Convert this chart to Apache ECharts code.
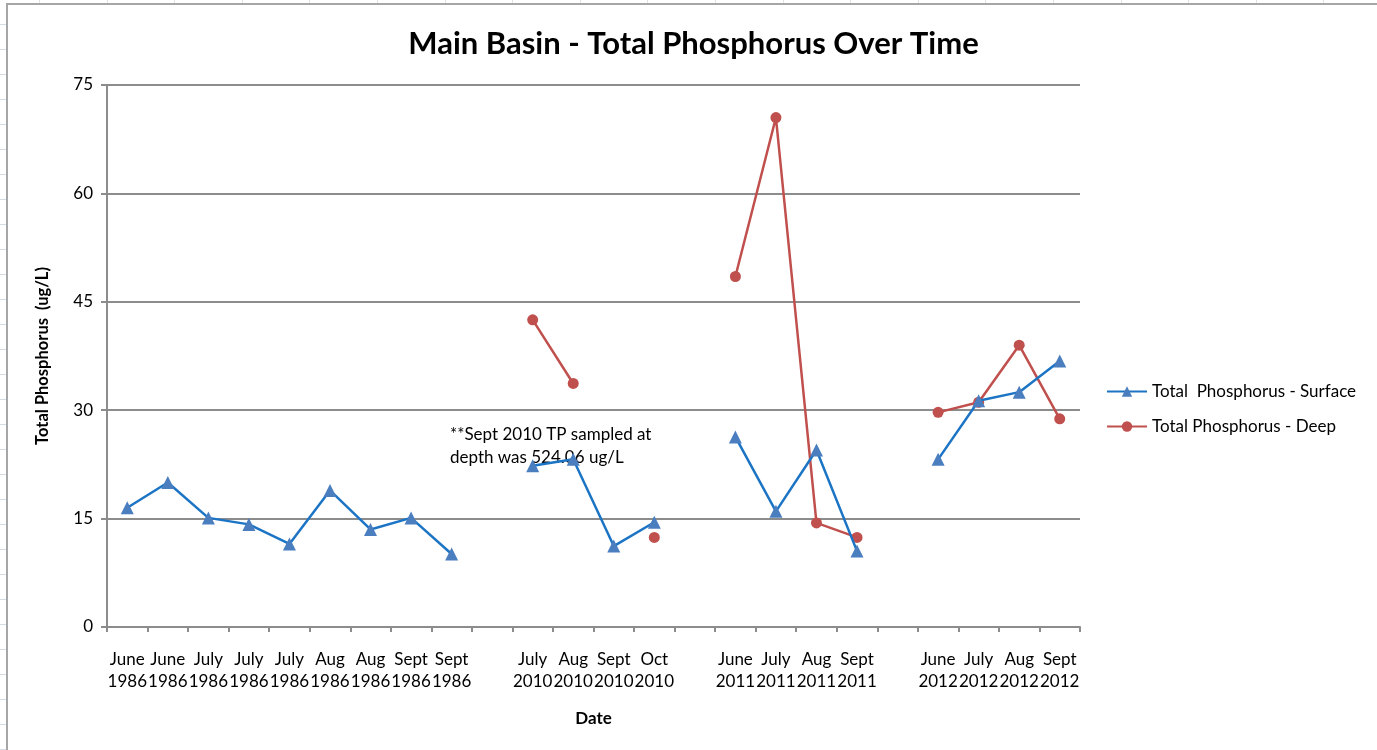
<!DOCTYPE html>
<html>
<head>
<meta charset="utf-8">
<script src="https://cdn.jsdelivr.net/npm/echarts@6/dist/echarts.min.js"></script>
<style>
  html, body { margin: 0; padding: 0; }
  body {
    width: 1377px; height: 750px; overflow: hidden;
    background-color: #fff;
    background-image:
      repeating-linear-gradient(to right, transparent 0, transparent 39px, #dfe3ea 39px, #dfe3ea 40px, transparent 40px, transparent 67.6px),
      repeating-linear-gradient(to bottom, transparent 0, transparent 24px, #d6dce6 24px, #d6dce6 25px);
  }
  #main {
    position: absolute; left: 6px; top: 3px;
    width: 1371px; height: 747px;
    background: #fff;
    border-left: 2px solid #a6a6a6; border-top: 2px solid #a6a6a6;
  }
</style>
</head>
<body>
<div id="main"></div>
<script>
// x categories (blank ones are the gaps between survey years)
var months = ['June','June','July','July','July','Aug','Aug','Sept','Sept','',
              'July','Aug','Sept','Oct','',
              'June','July','Aug','Sept','',
              'June','July','Aug','Sept'];
var years = ['1986','1986','1986','1986','1986','1986','1986','1986','1986','',
             '2010','2010','2010','2010','',
             '2011','2011','2011','2011','',
             '2012','2012','2012','2012'];

var surface = [16.5, 20.0, 15.1, 14.2, 11.5, 18.9, 13.5, 15.1, 10.1, null,
               22.3, 23.2, 11.2, 14.5, null,
               26.3, 16.0, 24.5, 10.5, null,
               23.2, 31.3, 32.5, 36.8];
// Sept 2010 deep value (524.06) left off the chart
var deep = [null, null, null, null, null, null, null, null, null, null,
            42.5, 33.7, null, 12.4, null,
            48.5, 70.5, 14.4, 12.4, null,
            29.7, 31.1, 39.0, 28.8];

var yTicks = [0, 15, 30, 45, 60, 75];

var categories = [];
for (var i = 0; i < months.length; i++) {
    categories.push(months[i] ? months[i] + '\n' + years[i] : '');
}

var font = 'Lato, "Open Sans", sans-serif';
var blue = '#1c74c4', blueMark = '#4a7ebf';
var red = '#c0504d';

var chart = echarts.init(document.getElementById('main'));

var option = {
    animation: false,
    title: {
        text: 'Main Basin - Total Phosphorus Over Time',
        left: 'center',
        top: 18,
        textStyle: { fontFamily: font, fontSize: 31, fontWeight: 'bold', color: '#000' }
    },
    legend: {
        orient: 'vertical',
        left: 1093,
        top: 373,
        itemGap: 18,
        itemWidth: 40,
        itemHeight: 13,
        textStyle: { fontFamily: font, fontSize: 17, color: '#000' },
        data: ['Total  Phosphorus - Surface', 'Total Phosphorus - Deep']
    },
    grid: { left: 99, top: 80, width: 973, height: 542 },
    xAxis: {
        type: 'category',
        data: categories,
        boundaryGap: true,
        name: 'Date',
        nameLocation: 'middle',
        nameGap: 83,
        nameTextStyle: { fontFamily: font, fontSize: 17, fontWeight: 'bold', color: '#000' },
        axisLine: { lineStyle: { color: '#8c8c8c', width: 2 } },
        axisTick: { show: true, alignWithLabel: false, length: 5, lineStyle: { color: '#8c8c8c', width: 2 } },
        axisLabel: {
            interval: 0,
            margin: 22,
            fontFamily: font,
            fontSize: 17,
            lineHeight: 22,
            color: '#000'
        }
    },
    yAxis: {
        type: 'value',
        min: yTicks[0],
        max: yTicks[yTicks.length - 1],
        interval: 15,
        name: 'Total Phosphorus  (ug/L)',
        nameLocation: 'middle',
        nameGap: 56,
        nameTextStyle: { fontFamily: font, fontSize: 16.5, fontWeight: 'bold', color: '#000' },
        axisLine: { show: true, lineStyle: { color: '#8c8c8c', width: 2 } },
        axisTick: { show: true, length: 6, lineStyle: { color: '#8c8c8c', width: 2 } },
        axisLabel: { margin: 14, fontFamily: font, fontSize: 17, color: '#000' },
        splitLine: { lineStyle: { color: '#8c8c8c', width: 2 } }
    },
    graphic: [{
        type: 'text',
        left: 442,
        top: 418,
        style: {
            text: '**Sept 2010 TP sampled at\ndepth was 524.06 ug/L',
            font: '17px ' + font,
            lineHeight: 23,
            fill: '#000'
        }
    }],
    series: [{
        name: 'Total  Phosphorus - Surface',
        type: 'line',
        data: surface,
        connectNulls: false,
        symbol: 'triangle',
        symbolSize: 13,
        lineStyle: { color: blue, width: 2.5 },
        itemStyle: { color: blueMark },
        z: 3
    }, {
        name: 'Total Phosphorus - Deep',
        type: 'line',
        data: deep,
        connectNulls: false,
        symbol: 'circle',
        symbolSize: 11,
        lineStyle: { color: red, width: 2.5 },
        itemStyle: { color: red },
        z: 2
    }]
};

chart.setOption(option);
</script>
</body>
</html>
